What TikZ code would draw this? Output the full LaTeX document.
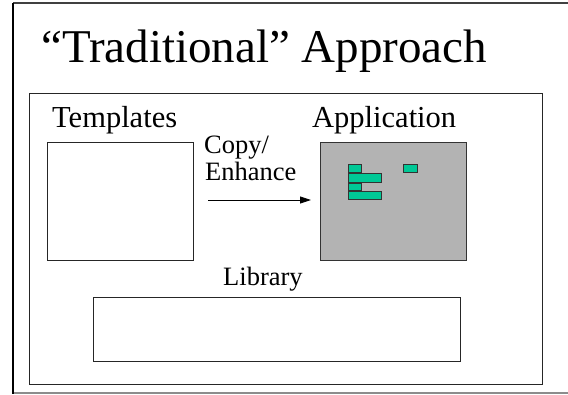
\documentclass[tikz,border=0pt]{standalone}
\usepackage{fontspec}
\setmainfont{Liberation Serif}
\usetikzlibrary{arrows.meta}
\definecolor{appgray}{HTML}{B3B3B3}
\definecolor{bargreen}{HTML}{00C896}
\definecolor{edgegray}{HTML}{8C8C8C}
\tikzset{
  plainbox/.style={draw=black!85, line width=0.9pt, fill=white, inner sep=0pt, anchor=north west},
  appbox/.style={draw=black!80, line width=0.9pt, fill=appgray, inner sep=0pt, anchor=north west},
  bar/.style={draw=black!80, line width=0.8pt, fill=bargreen, inner sep=0pt, anchor=north west},
  lbl/.style={inner sep=0pt, anchor=base west, font=\fontsize{30.5}{36}\selectfont},
  slbl/.style={inner sep=0pt, anchor=base west, font=\fontsize{26.5}{32}\selectfont},
  ttl/.style={inner sep=0pt, anchor=base west, font=\fontsize{47}{56}\selectfont},
}
\begin{document}
\begin{tikzpicture}[x=1pt,y=-1pt]
\useasboundingbox (0,0) rectangle (568,394);
% outer frame (right side lies beyond the picture)
\coordinate (otl) at (13,3);
\coordinate (obl) at (13,394);
\coordinate (otr) at (570,3);
\coordinate (obr) at (570,393);
\coordinate (obl2) at (13,393);
\draw[edgegray, line width=1.5pt] (obl2) -- (obr);
\draw[black!75, line width=1.8pt] (otl) -- (otr);
\draw[black, line width=2pt] (otl) -- (obl);
% inner frame
\node[plainbox, minimum width=513pt, minimum height=291pt] (inner) at (29,93) {};
% title
\node[ttl] (title) at (41,62) {“Traditional” Approach};
% templates
\node[lbl] (tlabel) at (52,127) {Templates};
\node[plainbox, minimum width=146pt, minimum height=118pt] (tmpl) at (47,142) {};
% application
\node[lbl] (alabel) at (312,127) {Application};
\node[appbox, minimum width=146pt, minimum height=118pt] (app) at (320,142) {};
\node[bar, minimum width=13pt, minimum height=8pt] (b1) at (348,164.3) {};
\node[bar, minimum width=33pt, minimum height=8.4pt] (b2) at (348,173.3) {};
\node[bar, minimum width=13pt, minimum height=7.5pt] (b3) at (348,182.7) {};
\node[bar, minimum width=33pt, minimum height=7.7pt] (b4) at (348,191) {};
\node[bar, minimum width=14pt, minimum height=8pt] (b5) at (402.7,164.3) {};
% copy / enhance
\node[slbl] (copy) at (204,153) {Copy/};
\node[slbl] (enh) at (205,180) {Enhance};
\coordinate (a1) at (208,200);
\coordinate (a2) at (311,200);
\draw[black, line width=0.9pt, -{Stealth[length=11pt,width=7pt,inset=0pt]}] (a1) -- (a2);
% library
\node[slbl] (llabel) at (223,285) {Library};
\node[plainbox, minimum width=367pt, minimum height=64pt] (lib) at (93,297) {};
\end{tikzpicture}
\end{document}
